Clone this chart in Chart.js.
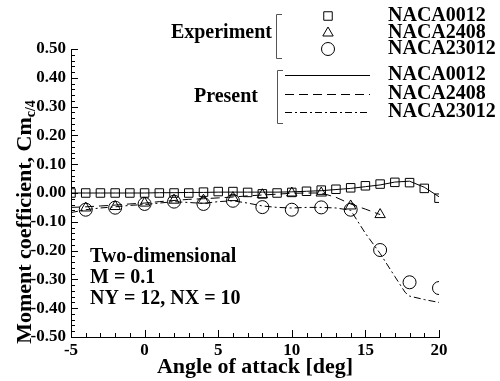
<!DOCTYPE html>
<html>
<head>
<meta charset="utf-8">
<title>Moment coefficient vs angle of attack</title>
<script src="https://cdn.jsdelivr.net/npm/chart.js@4/dist/chart.umd.min.js"></script>
<style>
  html, body { margin: 0; padding: 0; background: #fff; }
  #wrap { width: 500px; height: 381px; }
</style>
</head>
<body>
<div id="wrap"><canvas id="cmChart" width="500" height="381"></canvas></div>
<script>
// Experiment data (markers)
const angleExp0012 = [-5, -4, -3, -2, -1, 0, 1, 2, 3, 4, 5, 6, 7, 8, 9, 10, 11, 12, 13, 14, 15, 16, 17, 18, 19, 20];
const cmExp0012 = [0.000, 0.000, 0.000, 0.000, 0.000, 0.000, 0.000, 0.000, 0.000, 0.003, 0.005, 0.005, 0.002, -0.003, 0.000, 0.002, 0.006, 0.010, 0.013, 0.018, 0.025, 0.031, 0.037, 0.036, 0.016, -0.018];

const angleExp2408 = [-4, -2, 0, 2, 4, 6, 8, 10, 12, 14, 16];
const cmExp2408 = [-0.052, -0.047, -0.035, -0.025, -0.025, -0.016, -0.006, 0.000, 0.000, -0.045, -0.075];

const angleExp23012 = [-4, -2, 0, 2, 4, 6, 8, 10, 12, 14, 16, 18, 20];
const cmExp23012 = [-0.058, -0.051, -0.038, -0.030, -0.038, -0.027, -0.049, -0.058, -0.050, -0.058, -0.198, -0.310, -0.330];

// Present computation (lines)
const anglePres0012 = [-5, -4, -3, -2, -1, 0, 1, 2, 3, 4, 5, 6, 7, 8, 9, 10, 11, 12, 13, 14, 15, 16, 17, 18, 19, 20];
const cmPres0012 = [0.000, 0.000, 0.000, 0.000, 0.000, 0.000, 0.001, 0.001, 0.002, 0.002, 0.003, 0.003, 0.003, 0.003, 0.003, 0.004, 0.006, 0.008, 0.012, 0.016, 0.022, 0.028, 0.038, 0.041, 0.020, -0.013];

const anglePres2408 = [-5, -4, -3, -2, -1, 0, 1, 2, 3, 4, 5, 6, 7, 8, 9, 10, 11, 12, 13, 14, 15, 16];
const cmPres2408 = [-0.050, -0.048, -0.045, -0.042, -0.038, -0.035, -0.030, -0.026, -0.022, -0.020, -0.017, -0.014, -0.010, -0.007, -0.004, -0.001, 0.000, 0.000, -0.015, -0.038, -0.056, -0.075];

const anglePres23012 = [-5, -4, -3, -2, -1, 0, 1, 2, 3, 4, 5, 6, 7, 8, 9, 10, 11, 12, 13, 14, 15, 16, 17, 17.7, 18, 19, 20];
const cmPres23012 = [-0.068, -0.058, -0.052, -0.048, -0.043, -0.040, -0.035, -0.030, -0.033, -0.036, -0.030, -0.027, -0.035, -0.045, -0.050, -0.052, -0.050, -0.050, -0.052, -0.060, -0.140, -0.210, -0.290, -0.345, -0.358, -0.370, -0.380];

const xTicks = [-5, 0, 5, 10, 15, 20];
const yTicks = [-0.5, -0.4, -0.3, -0.2, -0.1, 0, 0.1, 0.2, 0.3, 0.4, 0.5];

const legendExp = ['NACA0012', 'NACA2408', 'NACA23012'];
const legendPres = ['NACA0012', 'NACA2408', 'NACA23012'];
const noteLines = ['Two-dimensional', 'M = 0.1', 'NY = 12, NX = 10'];

const SERIF = '"Liberation Serif", "Times New Roman", serif';
const DASH = [9, 5];
const DASHDOT = [7, 3, 2, 3];

function pts(xs, ys) {
  return xs.map((x, i) => ({ x: x, y: ys[i] }));
}

function lineSet(label, xs, ys, dash) {
  return {
    label: label,
    data: pts(xs, ys),
    showLine: true,
    borderColor: '#000',
    borderWidth: 1,
    borderDash: dash,
    pointRadius: 0,
    fill: false
  };
}

function markerSet(label, xs, ys, style, r) {
  return {
    label: label,
    data: pts(xs, ys),
    showLine: false,
    pointStyle: style,
    pointRadius: r,
    pointBorderColor: '#000',
    pointBackgroundColor: 'rgba(0,0,0,0)',
    pointBorderWidth: 1
  };
}

function drawMarker(ctx, style, x, y, r) {
  ctx.beginPath();
  if (style === 'rect') {
    const s = r * Math.SQRT1_2;
    ctx.rect(x - s, y - s, 2 * s, 2 * s);
  } else if (style === 'triangle') {
    for (let k = 0; k < 3; k++) {
      const a = k * 2 * Math.PI / 3;
      const px = x + Math.sin(a) * r;
      const py = y - Math.cos(a) * r;
      if (k === 0) ctx.moveTo(px, py); else ctx.lineTo(px, py);
    }
    ctx.closePath();
  } else {
    ctx.arc(x, y, r, 0, Math.PI * 2);
  }
  ctx.stroke();
}

function bracket(ctx, x, y0, y1) {
  ctx.beginPath();
  ctx.moveTo(x + 6, y0 + 0.5);
  ctx.lineTo(x + 0.5, y0 + 0.5);
  ctx.lineTo(x + 0.5, y1 + 0.5);
  ctx.lineTo(x + 6, y1 + 0.5);
  ctx.stroke();
}

// inward ticks, legend block, note text and axis titles
const decorations = {
  id: 'decorations',
  afterDraw(chart) {
    const ctx = chart.ctx;
    const xs = chart.scales.x;
    const ys = chart.scales.y;
    const area = chart.chartArea;
    ctx.save();
    ctx.strokeStyle = '#000';
    ctx.lineWidth = 1;

    // x axis ticks: major every 5 deg, minor every 1 deg
    for (let v = -5; v <= 20; v++) {
      const px = Math.round(xs.getPixelForValue(v)) + 0.5;
      const len = (v % 5 === 0) ? 7 : 4;
      ctx.beginPath();
      ctx.moveTo(px, area.bottom);
      ctx.lineTo(px, area.bottom - len);
      ctx.stroke();
    }
    // y axis ticks: major every 0.1, minor every 0.02
    for (let i = -25; i <= 25; i++) {
      const py = Math.round(ys.getPixelForValue(i * 0.02)) + 0.5;
      const len = (i % 5 === 0) ? 7 : 4;
      ctx.beginPath();
      ctx.moveTo(area.left, py);
      ctx.lineTo(area.left + len, py);
      ctx.stroke();
    }

    // legend
    ctx.fillStyle = '#000';
    ctx.font = 'bold 20px ' + SERIF;
    ctx.textBaseline = 'middle';
    ctx.textAlign = 'left';
    const expRows = [16, 33, 49];
    const presRows = [75, 94, 112];
    const styles = ['rect', 'triangle', 'circle'];
    const radii = [6, 6, 6.5];
    legendExp.forEach((t, i) => {
      drawMarker(ctx, styles[i], 328, expRows[i], radii[i]);
      ctx.fillText(t, 388, expRows[i]);
    });
    const dashes = [[], DASH, DASHDOT];
    legendPres.forEach((t, i) => {
      ctx.setLineDash(dashes[i]);
      ctx.beginPath();
      ctx.moveTo(285, presRows[i] + 0.5);
      ctx.lineTo(370, presRows[i] + 0.5);
      ctx.stroke();
      ctx.setLineDash([]);
      ctx.fillText(t, 388, presRows[i]);
    });
    ctx.strokeStyle = '#555';
    bracket(ctx, 276, 14, 58);
    bracket(ctx, 277, 70, 123);
    ctx.textAlign = 'right';
    ctx.fillText('Experiment', 272, 33);
    ctx.fillText('Present', 258, 97);

    // case description
    ctx.textAlign = 'left';
    const noteY = [257, 278, 299];
    noteLines.forEach((t, i) => ctx.fillText(t, 90, noteY[i]));

    // x axis title
    ctx.font = 'bold 22px ' + SERIF;
    ctx.textAlign = 'center';
    ctx.fillText('Angle of attack [deg]', (area.left + area.right) / 2, 367);

    // y axis title with subscript
    ctx.translate(31, 222);
    ctx.rotate(-Math.PI / 2);
    ctx.textAlign = 'left';
    ctx.textBaseline = 'alphabetic';
    const main = 'Moment coefficient, Cm';
    const w1 = ctx.measureText(main).width;
    ctx.font = 'bold 14px ' + SERIF;
    const w2 = ctx.measureText('c/4').width;
    const s = -(w1 + w2) / 2;
    ctx.font = 'bold 22px ' + SERIF;
    ctx.fillText(main, s, 0);
    ctx.font = 'bold 14px ' + SERIF;
    ctx.fillText('c/4', s + w1, 4);
    ctx.restore();
  }
};

const tickFont = { family: SERIF, size: 17, weight: 'bold' };

new Chart(document.getElementById('cmChart').getContext('2d'), {
  type: 'scatter',
  data: {
    datasets: [
      lineSet('Present NACA0012', anglePres0012, cmPres0012, []),
      lineSet('Present NACA2408', anglePres2408, cmPres2408, DASH),
      lineSet('Present NACA23012', anglePres23012, cmPres23012, DASHDOT),
      markerSet('Experiment NACA0012', angleExp0012, cmExp0012, 'rect', 6),
      markerSet('Experiment NACA2408', angleExp2408, cmExp2408, 'triangle', 6),
      markerSet('Experiment NACA23012', angleExp23012, cmExp23012, 'circle', 6.5)
    ]
  },
  options: {
    responsive: false,
    animation: false,
    events: [],
    layout: { padding: { top: 49, right: 61, left: 0, bottom: 0 } },
    plugins: {
      legend: { display: false },
      tooltip: { enabled: false }
    },
    scales: {
      x: {
        type: 'linear',
        min: -5,
        max: 20,
        afterFit(scale) { scale.height = 44; },
        afterBuildTicks(scale) { scale.ticks = xTicks.map(v => ({ value: v })); },
        grid: { display: false, drawTicks: false },
        border: { display: true, color: '#000', width: 1 },
        ticks: { color: '#000', font: tickFont, padding: 3, maxRotation: 0 }
      },
      y: {
        type: 'linear',
        min: -0.5,
        max: 0.5,
        afterFit(scale) { scale.width = 71; },
        afterBuildTicks(scale) { scale.ticks = yTicks.map(v => ({ value: v })); },
        grid: { display: false, drawTicks: false },
        border: { display: true, color: '#000', width: 1 },
        ticks: {
          color: '#000',
          font: tickFont,
          padding: 5,
          callback: v => (Math.abs(v) < 1e-9 ? 0 : v).toFixed(2)
        }
      }
    }
  },
  plugins: [decorations]
});
</script>
</body>
</html>
